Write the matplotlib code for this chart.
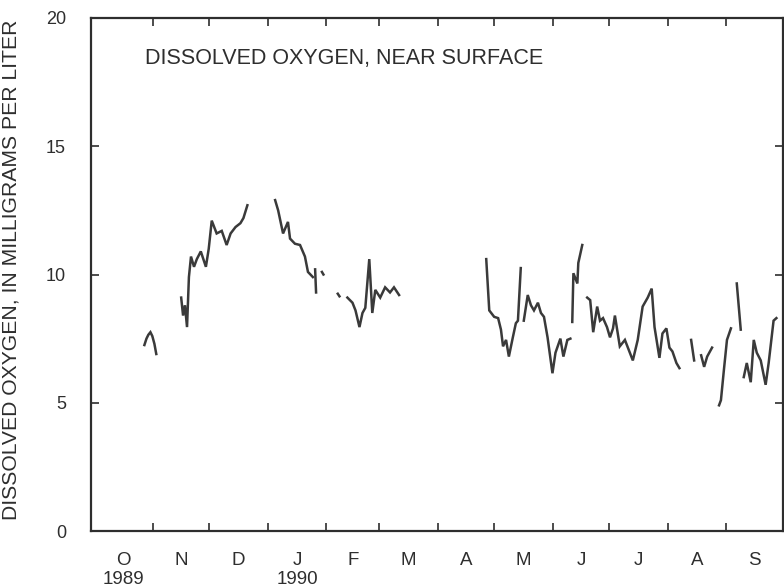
import numpy as np
import pandas as pd
import matplotlib
matplotlib.use("Agg")
import matplotlib.pyplot as plt

plt.rcParams['font.family'] = ['Liberation Sans', 'DejaVu Sans']

# water year 1990, x = days since 1989-10-01
start = pd.Timestamp("1989-10-01")

seg1_day = [26.5, 27.6, 28.6, 29.7, 30.7, 31.8, 32.8]
seg1_do = [7.25, 7.5, 7.65, 7.75, 7.6, 7.3, 6.9]

seg2_day = [46.0, 47.0, 48.0, 49.1, 50.1, 51.2, 52.8, 54.3, 56.4, 59.1, 60.6, 62.2,
            64.8, 67.5, 70.1, 72.2, 74.8, 77.4, 79.0, 81.1]
seg2_do = [9.1, 8.4, 8.8, 7.95, 9.9, 10.7, 10.3, 10.6, 10.9, 10.3, 11.0, 12.1,
           11.6, 11.7, 11.15, 11.6, 11.85, 12.0, 12.2, 12.7]

seg3_day = [95.8, 97.4, 100.0, 102.6, 103.7, 106.3, 109.0, 111.6, 113.2, 115.8]
seg3_do = [12.9, 12.5, 11.6, 12.05, 11.4, 11.2, 11.15, 10.7, 10.1, 9.9]

seg4_day = [117.0, 117.5]
seg4_do = [10.2, 9.3]

seg5_day = [120.6, 121.4]
seg5_do = [10.1, 10.0]

seg6_day = [129.0, 129.9]
seg6_do = [9.25, 9.15]

seg7_day = [134.1, 136.8, 138.4, 140.5, 142.1, 143.6, 145.7, 147.3, 148.9, 151.5,
            154.1, 156.7, 158.8, 161.5]
seg7_do = [9.1, 8.9, 8.6, 7.95, 8.5, 8.7, 10.6, 8.5, 9.4, 9.1, 9.5, 9.3, 9.5, 9.2]

seg8_day = [207.7, 209.3, 211.9, 214.0, 215.5, 216.6, 218.2, 219.7, 221.8, 223.4,
            224.5, 226.0]
seg8_do = [10.6, 8.6, 8.35, 8.3, 7.85, 7.2, 7.45, 6.8, 7.55, 8.1, 8.2, 10.25]

seg9_day = [227.6, 229.7, 231.4, 233.0, 235.1, 236.7, 238.3, 240.2, 242.8, 244.4,
            247.0, 248.6, 250.7, 252.3]
seg9_do = [8.2, 9.2, 8.8, 8.6, 8.9, 8.5, 8.35, 7.55, 6.15, 6.95, 7.5, 6.8, 7.45, 7.5]

seg10_day = [253.3, 253.9, 256.0, 256.5, 258.6]
seg10_do = [8.15, 10.05, 9.65, 10.45, 11.15]

seg11_day = [261.2, 262.8, 264.4, 266.5, 268.0, 269.6, 271.7, 273.3, 274.9, 275.9,
             278.5, 281.2, 285.4, 288.0, 290.6, 293.3, 295.4, 296.9, 299.5, 301.1,
             303.2, 304.8, 306.4, 308.5, 310.1]
seg11_do = [9.1, 9.0, 7.75, 8.75, 8.2, 8.3, 7.95, 7.55, 7.9, 8.4,
            7.2, 7.45, 6.65, 7.45, 8.75, 9.1, 9.45, 7.95, 6.75, 7.7,
            7.9, 7.15, 7.0, 6.55, 6.35]

seg12_day = [316.3, 317.9]
seg12_do = [7.45, 6.65]

seg13_day = [321.6, 323.2, 324.8, 327.4]
seg13_do = [6.85, 6.4, 6.8, 7.15]

seg14_day = [331.1, 332.1, 333.7, 335.3, 337.4]
seg14_do = [4.9, 5.1, 6.3, 7.45, 7.9]

seg15_day = [340.5, 342.6]
seg15_do = [9.65, 7.85]

seg16_day = [344.2, 345.8, 347.9, 349.5, 351.1, 353.2, 355.8, 357.4, 360.0, 361.5]
seg16_do = [6.0, 6.55, 5.8, 7.45, 6.95, 6.65, 5.7, 6.55, 8.2, 8.3]

segments = [
    (seg1_day, seg1_do), (seg2_day, seg2_do), (seg3_day, seg3_do),
    (seg4_day, seg4_do), (seg5_day, seg5_do), (seg6_day, seg6_do),
    (seg7_day, seg7_do), (seg8_day, seg8_do), (seg9_day, seg9_do),
    (seg10_day, seg10_do), (seg11_day, seg11_do), (seg12_day, seg12_do),
    (seg13_day, seg13_do), (seg14_day, seg14_do), (seg15_day, seg15_do),
    (seg16_day, seg16_do),
]

month_letters = ["O\n1989", "N", "D", "J\n1990", "F", "M", "A", "M", "J", "J", "A", "S"]
y_ticks = [0, 5, 10, 15, 20]

ink = "#2e2e2e"

fig = plt.figure(figsize=(7.84, 5.87), dpi=100)
ax = fig.add_axes([91 / 784, 1 - 531 / 587, 692 / 784, 513 / 587])

for d, v in segments:
    ax.plot(d, v, color="#3a3a3a", linewidth=1.8, solid_joinstyle="miter")

# month boundaries and mid-month label positions
month_starts = pd.date_range(start, periods=13, freq="MS")
tick_days = (month_starts - start).days.values
mid_days = (tick_days[:-1] + tick_days[1:]) / 2

ax.set_xlim(-1.8, 361.5)
ax.set_ylim(0, 20)

ax.set_xticks(tick_days[1:])
ax.set_xticklabels([])
ax.set_xticks(mid_days, minor=True)
ax.set_xticklabels(month_letters, minor=True, fontsize=13.5, color=ink,
                   linespacing=1.15, va="top")
ax.tick_params(axis="x", which="minor", length=0, pad=15)
ax.tick_params(axis="x", which="major", direction="in", length=6, width=1.2,
               top=True, color=ink)

ax.set_yticks(y_ticks)
ax.set_yticklabels([str(t) for t in y_ticks], fontsize=13, color=ink)
ax.tick_params(axis="y", direction="in", length=6, width=1.2, right=True,
               pad=18, color=ink)

for s in ax.spines.values():
    s.set_linewidth(1.6)
    s.set_color(ink)

ax.set_ylabel("DISSOLVED OXYGEN, IN MILLIGRAMS PER LITER", fontsize=15.2,
              color=ink)
ax.yaxis.set_label_coords(-0.102, 0.51)

ax.text(0.078, 0.922, "DISSOLVED OXYGEN, NEAR SURFACE", transform=ax.transAxes,
        fontsize=15.5, color=ink, va="center", ha="left")

fig.savefig("out.png", dpi=100, facecolor="white")
